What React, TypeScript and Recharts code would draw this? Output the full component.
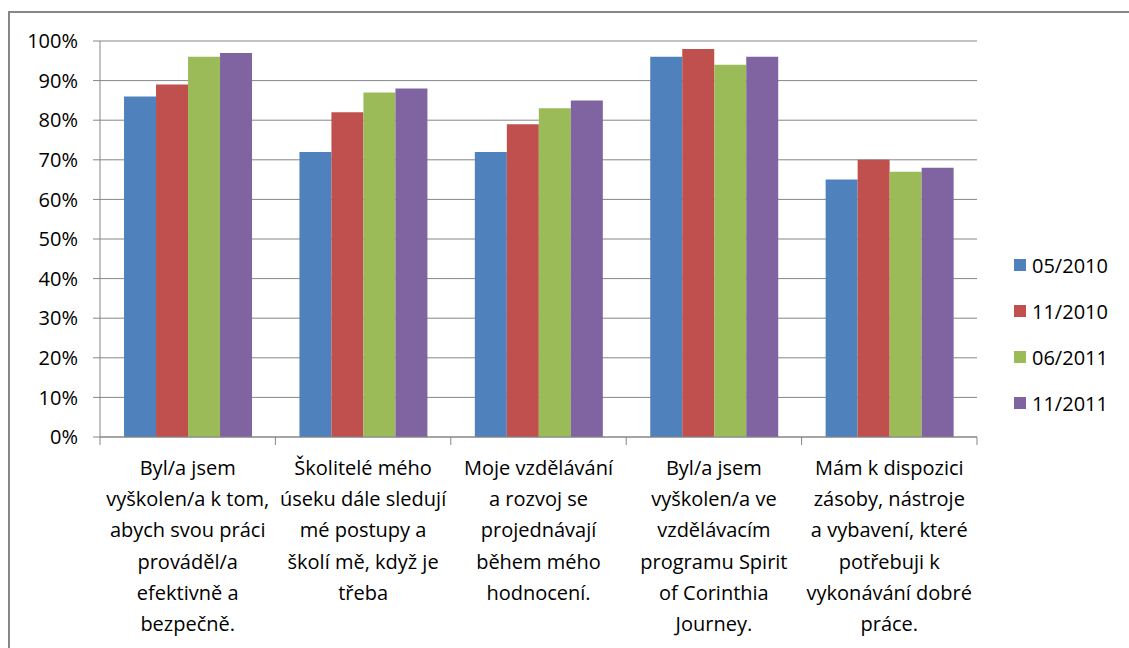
import React from "react";
import { BarChart, Bar, XAxis, YAxis, CartesianGrid } from "recharts";

const categories = [
  "Byl/a jsem\nvyškolen/a k tom,\nabych svou práci\nprováděl/a\nefektivně a\nbezpečně.",
  "Školitelé mého\núseku dále sledují\nmé postupy a\nškolí mě, když je\ntřeba",
  "Moje vzdělávání\na rozvoj se\nprojednávají\nběhem mého\nhodnocení.",
  "Byl/a jsem\nvyškolen/a ve\nvzdělávacím\nprogramu Spirit\nof Corinthia\nJourney.",
  "Mám k dispozici\nzásoby, nástroje\na vybavení, které\npotřebuji k\nvykonávání dobré\npráce.",
];
const s052010 = [86, 72, 72, 96, 65];
const s112010 = [89, 82, 79, 98, 70];
const s062011 = [96, 87, 83, 94, 67];
const s112011 = [97, 88, 85, 96, 68];
const seriesNames = ["05/2010", "11/2010", "06/2011", "11/2011"];
const seriesColors = ["#4F81BD", "#C0504D", "#9BBB59", "#8064A2"];
const yTicks = [0, 10, 20, 30, 40, 50, 60, 70, 80, 90, 100];

const data = categories.map((c, i) => ({
  name: c,
  a: s052010[i],
  b: s112010[i],
  c: s062011[i],
  d: s112011[i],
}));
const keys = ["a", "b", "c", "d"];

const FONT = "'Open Sans', sans-serif";
const FS = 20;
const W = 1129;
const H = 648;
const M = { top: 41, right: 152, bottom: 0, left: 0 };
const XH = 211;
const YW = 100;
const band = (W - M.right - YW) / categories.length;

const CatTick = (props: any) => {
  const { x, y, payload, index } = props;
  const lines = String(payload.value).split("\n");
  return (
    <g>
      <line x1={x - band / 2} x2={x - band / 2} y1={y - 8} y2={y} stroke="#868686" strokeWidth={1} />
      {index === categories.length - 1 && (
        <line x1={x + band / 2} x2={x + band / 2} y1={y - 8} y2={y} stroke="#868686" strokeWidth={1} />
      )}
      <text x={x} y={y + 30} textAnchor="middle" fontFamily={FONT} fontSize={FS} fill="#000">
        {lines.map((l, i) => (
          <tspan key={i} x={x} dy={i === 0 ? 0 : 31.2}>
            {l}
          </tspan>
        ))}
      </text>
    </g>
  );
};

export default function App() {
  return (
    <div style={{ position: "absolute", left: 0, top: 0, width: W, height: H, background: "#fff", overflow: "hidden" }}>
      <div
        style={{
          position: "absolute",
          left: 8,
          top: 11,
          width: W + 20,
          height: H + 20,
          border: "2px solid #868686",
          boxSizing: "border-box",
        }}
      />
      <BarChart width={W} height={H} data={data} margin={M} barCategoryGap="13.7%" barGap={0}>
        <CartesianGrid vertical={false} stroke="#868686" strokeWidth={1} />
        <XAxis
          dataKey="name"
          tick={<CatTick />}
          tickLine={false}
          axisLine={{ stroke: "#868686" }}
          interval={0}
          height={XH}
        />
        <YAxis
          width={YW}
          domain={[0, 100]}
          ticks={yTicks}
          tickFormatter={(v: number) => `${v}%`}
          tick={{ fontFamily: FONT, fontSize: FS, fill: "#000" }}
          tickSize={7}
          tickMargin={15}
          tickLine={{ stroke: "#868686" }}
          axisLine={{ stroke: "#868686" }}
          interval={0}
        />
        {keys.map((k, i) => (
          <Bar key={k} dataKey={k} name={seriesNames[i]} fill={seriesColors[i]} isAnimationActive={false} />
        ))}
      </BarChart>
      <div style={{ position: "absolute", left: 1014, top: 242, fontFamily: FONT, fontSize: FS, color: "#000" }}>
        {seriesNames.map((n, i) => (
          <div key={n} style={{ display: "flex", alignItems: "center", height: 46 }}>
            <span style={{ display: "inline-block", width: 12, height: 12, background: seriesColors[i], marginRight: 6 }} />
            <span>{n}</span>
          </div>
        ))}
      </div>
    </div>
  );
}
